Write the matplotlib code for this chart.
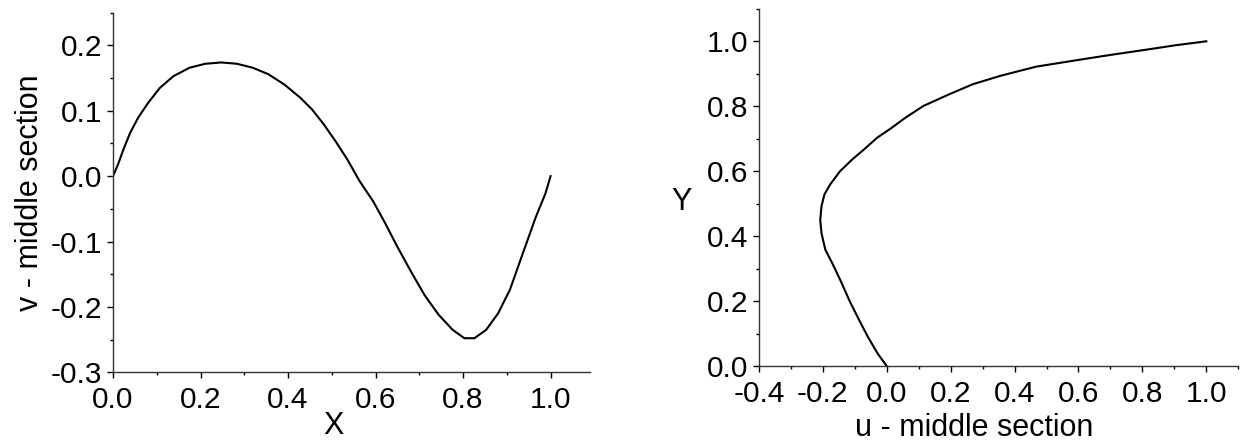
import matplotlib.pyplot as plt
from matplotlib.ticker import MultipleLocator

plt.rcParams['font.family'] = ['Liberation Sans', 'DejaVu Sans']
plt.rcParams['axes.unicode_minus'] = False

# v along the horizontal middle section
x_mid = [0.0, 0.012, 0.025, 0.039, 0.057, 0.080, 0.107, 0.138, 0.175, 0.211,
         0.247, 0.283, 0.319, 0.355, 0.392, 0.428, 0.455, 0.482, 0.509, 0.536,
         0.563, 0.595, 0.622, 0.649, 0.681, 0.712, 0.744, 0.776, 0.803, 0.826,
         0.853, 0.880, 0.907, 0.934, 0.966, 0.988, 1.0]
v_mid = [0.0, 0.019, 0.043, 0.066, 0.089, 0.112, 0.135, 0.153, 0.166, 0.172,
         0.174, 0.172, 0.166, 0.156, 0.140, 0.120, 0.102, 0.079, 0.053, 0.025,
         -0.007, -0.039, -0.072, -0.107, -0.146, -0.182, -0.212, -0.235,
         -0.248, -0.248, -0.235, -0.210, -0.174, -0.123, -0.063, -0.027, 0.0]

# u along the vertical middle section
y_mid = [0.0, 0.038, 0.09, 0.141, 0.198, 0.26, 0.316, 0.358, 0.409, 0.45,
         0.492, 0.528, 0.559, 0.6, 0.636, 0.667, 0.703, 0.731, 0.765, 0.801,
         0.837, 0.868, 0.894, 0.922, 0.943, 0.958, 0.974, 0.988, 1.0]
u_mid = [0.0, -0.028, -0.059, -0.086, -0.115, -0.143, -0.170, -0.192, -0.204,
         -0.208, -0.204, -0.195, -0.177, -0.146, -0.108, -0.071, -0.030,
         0.012, 0.059, 0.115, 0.196, 0.270, 0.357, 0.468, 0.602, 0.70, 0.811,
         0.905, 1.0]

fig = plt.figure(figsize=(12.42, 4.41), dpi=100)
ax1 = fig.add_axes([0.091, 0.156, 0.384, 0.815])
ax2 = fig.add_axes([0.611, 0.170, 0.386, 0.810])

ax1.plot(x_mid, v_mid, color='black', lw=1.5)
ax1.set_xlim(0, 1.09)
ax1.set_ylim(-0.3, 0.25)
ax1.xaxis.set_major_locator(MultipleLocator(0.2))
ax1.xaxis.set_minor_locator(MultipleLocator(0.1))
ax1.yaxis.set_major_locator(MultipleLocator(0.1))
ax1.yaxis.set_minor_locator(MultipleLocator(0.05))
ax1.set_xlabel('X', fontsize=22, labelpad=-2)
ax1.xaxis.label.set_x(0.463)
ax1.set_ylabel('v - middle section', fontsize=22, labelpad=4)

ax2.plot(u_mid, y_mid, color='black', lw=1.5)
ax2.set_xlim(-0.4, 1.1)
ax2.set_ylim(0, 1.1)
ax2.xaxis.set_major_locator(MultipleLocator(0.2))
ax2.xaxis.set_minor_locator(MultipleLocator(0.1))
ax2.yaxis.set_major_locator(MultipleLocator(0.2))
ax2.yaxis.set_minor_locator(MultipleLocator(0.1))
ax2.set_xlabel('u - middle section', fontsize=22, labelpad=4)
ax2.xaxis.label.set_x(0.449)
ax2.set_ylabel('Y', fontsize=22, rotation=0, labelpad=18, va='center')
ax2.yaxis.label.set_y(0.46)

for ax in (ax1, ax2):
    for s in ('top', 'right'):
        ax.spines[s].set_visible(False)
    for s in ('left', 'bottom'):
        ax.spines[s].set_color('#333333')
        ax.spines[s].set_linewidth(1.0)
    ax.tick_params(which='major', length=4.3, width=1.0, labelsize=21.5, pad=3.6)
    ax.tick_params(axis='x', which='major', pad=5.5)
    ax.tick_params(which='minor', length=2.4, width=1.0)
    ax.xaxis.set_major_formatter(plt.FormatStrFormatter('%.1f'))
    ax.yaxis.set_major_formatter(plt.FormatStrFormatter('%.1f'))

plt.savefig('out.png', dpi=100)
